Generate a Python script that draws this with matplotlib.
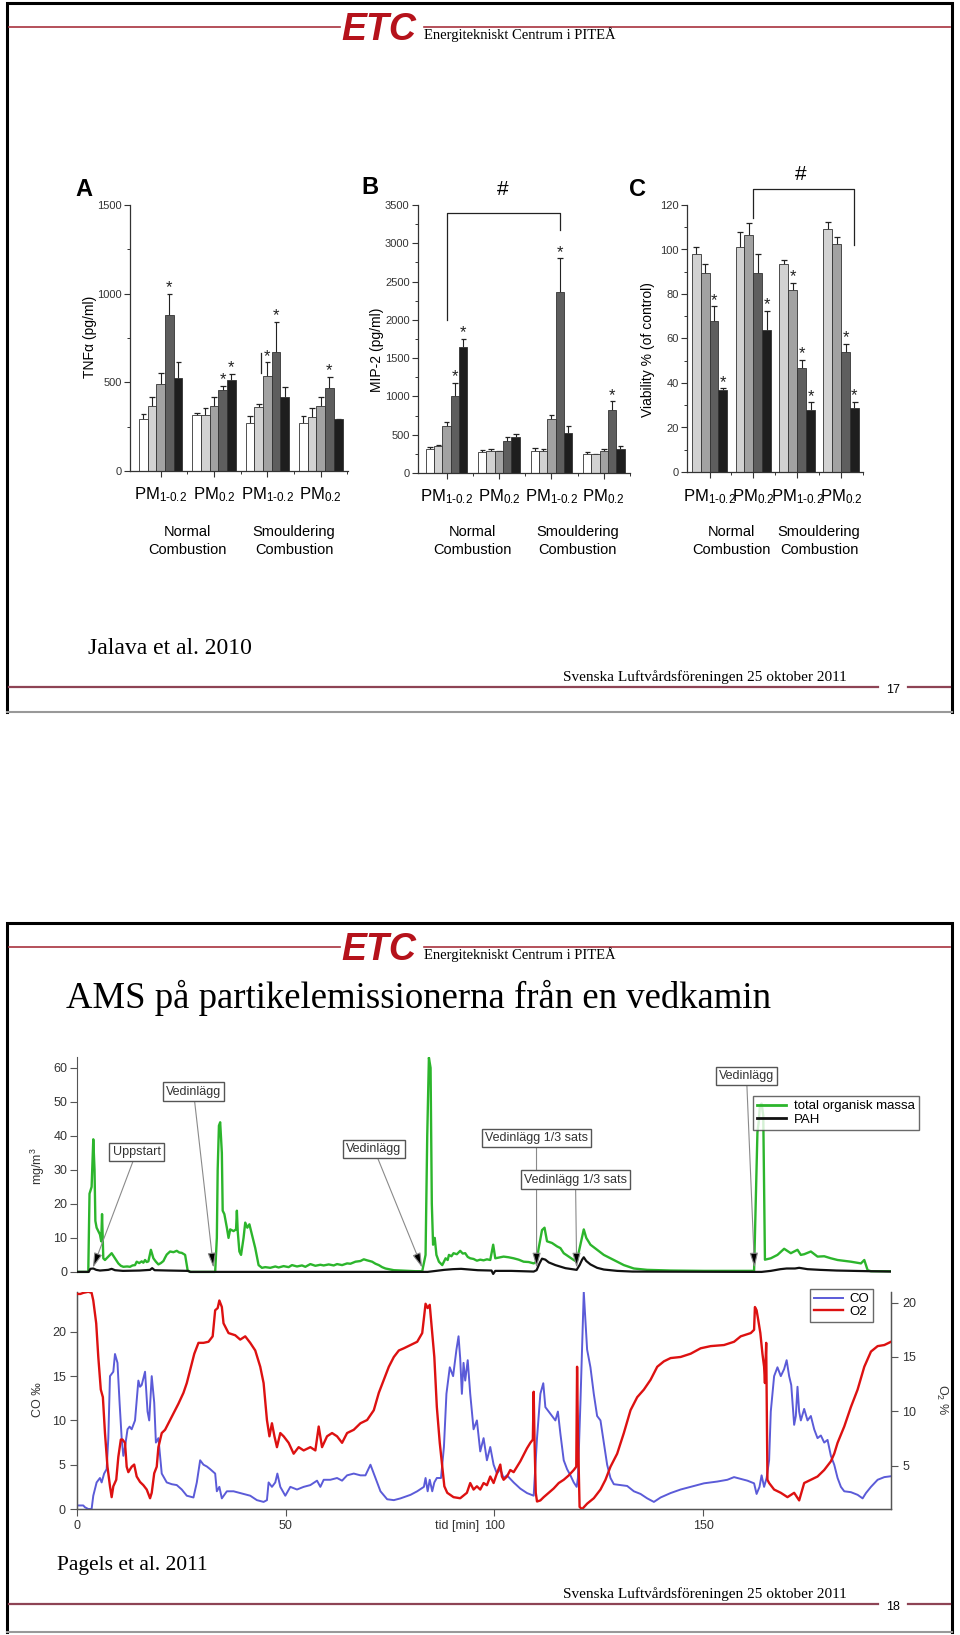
import numpy as np
import matplotlib
matplotlib.use('Agg')
import matplotlib.pyplot as plt
import matplotlib.transforms as mtrans

plt.rcParams['font.family'] = ['Liberation Sans', 'DejaVu Sans']
plt.rcParams['mathtext.fontset'] = 'custom'
plt.rcParams['mathtext.rm'] = 'Liberation Sans'
plt.rcParams['mathtext.it'] = 'Liberation Sans:italic'
plt.rcParams['mathtext.bf'] = 'Liberation Sans:bold'

# ---------------- data: slide 17 (Jalava et al. 2010) ----------------
pm_labels = [r'PM$_{1\text{-}0.2}$', r'PM$_{0.2}$', r'PM$_{1\text{-}0.2}$', r'PM$_{0.2}$']

tnf_vals = [[294, 366, 493, 881, 525], [313, 313, 369, 454, 514],
            [272, 360, 538, 669, 418], [272, 306, 369, 469, 291]]
tnf_tops = [[324, 418, 553, 999, 615], [328, 356, 418, 478, 548],
            [309, 375, 613, 842, 474], [309, 354, 418, 529, 291]]
tnf_stars = [(0, 3), (1, 3), (1, 4), (2, 2), (2, 3), (3, 3)]

mip_vals = [[313, 348, 609, 1000, 1643], [270, 283, 283, 413, 470],
            [291, 291, 700, 2361, 522], [252, 243, 291, 817, 313]]
mip_tops = [[339, 370, 670, 1174, 1748], [304, 313, 283, 465, 513],
            [326, 313, 761, 2804, 617], [278, 243, 313, 935, 348]]
mip_stars = [(0, 3), (0, 4), (2, 3), (3, 3)]

via_vals = [[97.9, 89.5, 67.8, 36.7], [100.9, 106.3, 89.5, 64.0],
            [93.4, 81.7, 46.6, 27.7], [109.2, 102.4, 54.0, 28.6]]
via_tops = [[101.2, 93.7, 74.5, 37.6], [107.8, 112.0, 98.2, 72.4],
            [95.2, 85.0, 50.5, 31.3], [112.3, 105.7, 57.7, 31.6]]
via_stars = [(0, 2), (0, 3), (1, 3), (2, 1), (2, 2), (2, 3), (3, 2), (3, 3)]

# ---------------- data: slide 18 (Pagels et al. 2011) ----------------
# (time [min], mg/m3)
tom = [(0, 0), (2.7, 0), (3.0, 23), (3.5, 25), (3.9, 39), (4.2, 30), (4.4, 15), (4.7, 13),
       (5.1, 12), (5.5, 11), (5.8, 9), (6.0, 17), (6.3, 4), (6.7, 3.5), (7.5, 4.5), (8.3, 5.5),
       (9.1, 4), (9.9, 2.5), (10.5, 1.8), (11.1, 1.5), (12.0, 1.6), (12.7, 1.5), (13.3, 1.9),
       (13.9, 2), (14.3, 3), (14.9, 2.6), (15.5, 3.1), (15.9, 2.7), (16.3, 3.5), (16.7, 2.9),
       (17.1, 3.1), (17.7, 6.5), (18.3, 4), (18.9, 3.0), (19.5, 2.2), (20.1, 2.6), (20.7, 3.2),
       (21.1, 4.2), (21.5, 5.1), (22.3, 6.0), (23.1, 5.8), (23.9, 6.2), (24.5, 5.7), (25.1, 5.6),
       (25.9, 5.0), (26.3, 2.0), (26.5, 0.5), (27.1, 0), (33.1, 0), (33.5, 10), (33.7, 30),
       (34.0, 43), (34.3, 44), (34.7, 35), (34.9, 18), (35.3, 17), (35.9, 13), (36.3, 10),
       (36.7, 12.5), (37.5, 12), (38.1, 12.5), (38.3, 18), (38.5, 12), (38.9, 6), (39.3, 5),
       (39.9, 10), (40.3, 14.5), (40.8, 13), (41.3, 14), (41.9, 11), (42.7, 7), (43.5, 2),
       (44.3, 1.2), (45.1, 1.4), (46.3, 1.2), (47.5, 1.6), (48.3, 1.3), (49.5, 1.7), (50.7, 1.4),
       (51.5, 2.0), (52.7, 1.6), (53.9, 1.9), (54.7, 1.5), (55.9, 2.3), (57.1, 1.8), (58.3, 2.1),
       (59.1, 1.9), (60.3, 2.2), (61.5, 1.9), (62.3, 2.3), (63.5, 2.0), (64.7, 2.5), (65.5, 2.4),
       (66.7, 3.0), (67.9, 3.2), (68.7, 3.7), (69.5, 3.4), (70.7, 3.0), (71.5, 2.4), (72.3, 2.0),
       (73.1, 1.4), (73.9, 1.0), (75.1, 0.7), (75.9, 0.5), (77.5, 0.4), (79.1, 0.3), (81.1, 0.2),
       (82.7, 0.2), (83.5, 5), (83.9, 40), (84.3, 63), (84.7, 60), (85.0, 20), (85.3, 8),
       (85.7, 10), (86.1, 5), (86.7, 3), (87.5, 2), (88.3, 4), (88.8, 3.5), (89.1, 5), (89.7, 4.6),
       (90.2, 5.5), (91.0, 5.2), (91.8, 6.2), (92.4, 5.4), (93.0, 5.5), (93.6, 4.4), (94.2, 4),
       (95.0, 3.8), (95.8, 3.3), (96.6, 3.6), (97.4, 3.4), (98.2, 3.7), (99.0, 3.5), (99.7, 8.0),
       (100.2, 4.0), (101.0, 4.2), (102.2, 4.5), (103.4, 4.3), (104.6, 4.0), (105.8, 3.6),
       (107.0, 3.0), (108.2, 2.9), (109.4, 2.5), (110.1, 3.0), (110.6, 7), (111.4, 12.3),
       (112.0, 13), (112.6, 9), (113.8, 8.5), (115.0, 7.5), (115.8, 7), (116.6, 5.5), (117.8, 4.5),
       (119.0, 3.5), (119.7, 3), (120.6, 8), (121.4, 12.5), (122.0, 10), (123.0, 8), (124.6, 6.5),
       (126.2, 5), (127.8, 4), (129.4, 3), (131.0, 2), (133.4, 1), (136.6, 0.6), (142.2, 0.4),
       (150.2, 0.3), (158.2, 0.3), (162.2, 0.3), (162.6, 20), (163.0, 41), (163.3, 44),
       (163.6, 49), (164.0, 49.5), (164.4, 46), (164.8, 3.6), (166.2, 4), (167.8, 5), (169.4, 6.8),
       (171.0, 5.5), (172.6, 6.5), (173.4, 5), (174.2, 5.2), (175.8, 6), (177.4, 4.5), (179.0, 4.6),
       (180.6, 4), (182.2, 3.5), (185.4, 3), (187.8, 2.5), (188.6, 3.5), (189.4, 0.5), (190.2, 0.2),
       (195.0, 0.2)]

pah = [(0, 0), (2.8, 0), (3.2, 0.9), (3.9, 1.0), (4.6, 0.6), (5.5, 0.4), (7.5, 0.6), (8.3, 0.9),
       (9.1, 0.5), (11.0, 0.3), (15.0, 0.4), (17.5, 0.6), (18.0, 1.1), (18.6, 0.5), (22.0, 0.4),
       (26.5, 0.3), (27.2, 0), (84.0, 0), (86.0, 0.3), (88.0, 0.6), (90.0, 0.8), (92.0, 0.9),
       (94.0, 0.7), (96.0, 0.5), (99.3, 0.4), (99.7, -0.6), (100.2, 0.3), (104.0, 0.3),
       (109.4, 0.1), (110.1, 0.5), (110.8, 2.5), (111.4, 3.9), (112.2, 3.6), (113.0, 2.8),
       (114.6, 2.0), (117.0, 1.1), (119.7, 0.6), (120.4, 2.0), (121.0, 3.6), (121.4, 4.3),
       (122.0, 3.2), (123.0, 2.2), (124.6, 1.2), (126.2, 0.7), (129.4, 0.3), (133.0, 0.1),
       (162.5, 0), (164.0, 0), (166.2, 0.3), (168.5, 0.8), (170.0, 1.0), (172.0, 1.0),
       (173.0, 1.2), (175.0, 0.8), (178.0, 0.6), (182.0, 0.4), (190.0, 0.2), (195.0, 0.1)]

# (time [min], CO permille)
co = [(0, 0.4), (1.5, 0.4), (1.9, 0.2), (2.7, 0), (3.5, 0), (3.9, 1.5), (4.7, 3), (5.5, 3.5),
      (5.9, 3), (6.5, 4), (7.1, 4.5), (7.5, 8), (7.9, 15), (8.7, 15.5), (9.1, 17.5), (9.7, 16.5),
      (10.2, 12), (10.7, 8), (11.1, 6), (11.5, 7), (12.1, 9), (12.6, 9.3), (13.1, 9), (13.9, 10),
      (14.7, 14.5), (15.1, 13.8), (15.5, 14), (16.3, 15.5), (16.9, 11), (17.3, 10), (17.9, 15),
      (18.5, 12), (18.9, 7.5), (19.5, 8), (20.3, 4), (21.5, 3), (22.7, 2.8), (23.9, 2.7),
      (25.1, 2.2), (26.3, 1.5), (27.9, 1.3), (28.7, 3), (29.5, 5.5), (30.3, 5), (31.1, 4.8),
      (31.9, 4.5), (33.1, 4), (33.5, 2), (34.1, 2.5), (34.7, 1.2), (35.9, 2), (37.5, 2),
      (39.1, 1.8), (41.5, 1.5), (43.1, 1), (44.7, 0.8), (45.5, 1), (45.9, 3), (46.7, 2.5),
      (47.5, 3), (48.0, 4), (48.7, 2.5), (49.9, 1.5), (51.1, 2.5), (52.7, 2.2), (54.3, 2.5),
      (55.9, 2.7), (57.5, 3.2), (58.3, 2.5), (59.1, 3.3), (60.7, 3.3), (62.3, 3.5), (63.5, 3.2),
      (64.7, 3.8), (66.3, 4), (67.9, 3.8), (69.1, 3.8), (70.3, 5), (71.1, 4), (72.7, 2),
      (74.3, 1.1), (75.9, 1), (77.5, 1.2), (79.9, 1.6), (81.5, 2), (83.1, 2.5), (83.5, 3.5),
      (84.0, 2), (84.5, 3.3), (85.1, 2), (85.6, 3), (86.2, 3.5), (87.2, 3.5), (87.9, 7),
      (88.5, 13), (89.3, 16), (90.1, 15), (90.9, 18), (91.4, 19.5), (91.8, 17), (92.2, 13),
      (92.6, 16.5), (93.0, 14.5), (93.6, 16.8), (94.2, 13), (95.0, 9), (95.8, 10), (96.6, 6.5),
      (97.4, 8), (98.2, 5.5), (99.0, 7), (99.8, 5), (100.6, 4), (101.4, 4.5), (102.2, 3.5),
      (103.0, 3.8), (104.6, 3), (106.2, 2.3), (107.8, 1.8), (109.4, 1.5), (110.2, 8), (111.0, 13),
      (111.7, 14.2), (112.2, 11.5), (113.0, 11), (113.8, 10.5), (114.6, 10), (115.2, 11),
      (115.8, 8.5), (116.6, 5.5), (117.4, 4.5), (118.2, 3.8), (119.0, 3), (119.7, 2.5),
      (120.0, 3.5), (120.6, 12), (121.4, 24.5), (122.2, 18), (123.0, 16), (123.8, 13),
      (124.6, 10.5), (125.4, 10), (126.2, 7.5), (127.0, 5), (127.8, 3.5), (128.6, 2.8),
      (130.2, 2.7), (131.8, 2.6), (133.4, 2), (135.0, 1.7), (136.6, 1.2), (138.2, 0.8),
      (139.8, 1.3), (142.2, 1.8), (144.6, 2.2), (147.0, 2.5), (150.2, 2.9), (153.4, 3.1),
      (155.8, 3.3), (157.4, 3.6), (159.0, 3.4), (160.6, 3.2), (162.2, 2.9), (162.8, 1.7),
      (163.5, 2.5), (164.0, 3.8), (164.6, 2.5), (165.2, 3.5), (165.8, 5.5), (166.2, 11),
      (167.0, 15), (167.8, 16), (168.6, 15), (169.4, 15.8), (170.0, 16.8), (170.6, 15),
      (171.1, 14), (171.8, 9.5), (172.2, 10.5), (172.6, 13.8), (173.0, 11), (173.4, 10),
      (174.2, 11.3), (175.0, 10), (175.8, 10.5), (176.6, 9), (177.4, 8), (178.2, 8.3), (179.0, 7.5),
      (179.8, 7.8), (180.6, 6), (181.4, 5), (182.2, 3.5), (183.0, 2.5), (183.8, 2), (185.4, 1.9),
      (187.0, 1.6), (188.2, 1.2), (189.0, 1.8), (190.2, 2.5), (191.8, 3.3), (193.4, 3.6),
      (195.0, 3.7)]

# (time [min], O2 %)
o2 = [(0, 20.8), (0.8, 20.8), (1.5, 20.9), (2.7, 21.0), (3.5, 20.9), (3.9, 20.2), (4.6, 18.1),
      (5.1, 15.0), (5.7, 12.0), (6.2, 11.3), (6.7, 8.0), (7.3, 4.9), (7.9, 3.1), (8.3, 2.1),
      (8.7, 3.1), (9.4, 3.7), (9.9, 5.8), (10.5, 7.4), (10.9, 7.4), (11.5, 7.1), (11.9, 4.9),
      (12.3, 4.4), (13.1, 4.9), (13.7, 5.1), (14.3, 4.0), (15.1, 3.5), (15.9, 3.2), (16.7, 2.8),
      (17.5, 2.0), (17.9, 2.5), (18.5, 4.3), (19.1, 4.9), (19.5, 6.7), (20.3, 8.0), (21.1, 8.3),
      (21.9, 8.9), (23.1, 9.8), (24.3, 10.7), (25.5, 11.7), (26.3, 12.6), (27.1, 13.8),
      (28.1, 15.3), (29.1, 16.3), (30.3, 16.3), (31.5, 16.4), (32.5, 16.9), (33.1, 19.3),
      (33.7, 19.5), (34.1, 20.2), (34.7, 19.6), (35.1, 18.1), (36.3, 17.2), (37.9, 17.0),
      (39.1, 16.6), (40.3, 16.9), (41.5, 16.3), (42.7, 15.6), (43.9, 14.1), (44.7, 12.6),
      (45.5, 9.2), (46.1, 7.7), (46.7, 8.9), (47.3, 7.7), (47.9, 6.7), (48.7, 8.0), (49.5, 7.7),
      (50.7, 7.1), (51.9, 6.1), (53.1, 6.7), (54.3, 6.4), (55.9, 6.7), (57.1, 6.4), (57.9, 8.6),
      (58.7, 6.7), (59.9, 7.7), (61.1, 8.0), (62.3, 7.7), (63.5, 7.1), (64.7, 8.0), (66.3, 8.3),
      (67.9, 8.9), (69.5, 9.2), (71.1, 10.1), (72.3, 11.7), (73.5, 12.9), (74.7, 14.1),
      (75.9, 15.0), (77.1, 15.6), (78.3, 15.8), (79.9, 16.1), (81.5, 16.4), (82.7, 17.2),
      (83.5, 19.9), (84.0, 19.5), (84.5, 19.8), (85.1, 17.2), (85.6, 15.0), (86.2, 10.4),
      (86.9, 7.1), (87.5, 4.9), (88.0, 3.1), (88.7, 2.5), (90.2, 2.1), (91.8, 2.0), (93.4, 2.5),
      (94.2, 3.4), (95.0, 2.8), (95.8, 3.1), (96.6, 2.8), (97.4, 3.4), (98.2, 3.2), (99.0, 4.0),
      (99.8, 3.4), (100.6, 4.3), (101.4, 5.1), (101.8, 4.0), (102.2, 3.7), (103.0, 4.0),
      (103.8, 4.6), (104.6, 4.4), (105.4, 4.9), (106.2, 5.4), (107.0, 6.0), (107.8, 6.6),
      (108.6, 7.1), (109.2, 7.4), (109.4, 11.8), (109.6, 7.4), (109.9, 2.5), (110.2, 1.7),
      (111.0, 1.8), (111.8, 2.1), (113.0, 2.5), (114.2, 2.9), (115.4, 3.4), (116.6, 3.7),
      (117.8, 4.1), (119.0, 4.6), (119.6, 4.9), (119.8, 14.1), (120.0, 8.0), (120.4, 1.2),
      (121.0, 1.0), (122.2, 1.5), (123.8, 2.0), (125.4, 2.8), (126.6, 3.7), (127.8, 4.9),
      (129.4, 6.1), (131.0, 8.0), (132.6, 10.1), (134.2, 11.3), (135.8, 12.0), (137.4, 12.9),
      (139.0, 14.1), (140.6, 14.6), (142.2, 14.9), (144.6, 15.0), (147.0, 15.3), (149.4, 15.8),
      (151.8, 16.0), (155.0, 16.1), (157.4, 16.4), (159.0, 16.9), (161.4, 17.2), (162.2, 17.5),
      (162.4, 19.6), (162.8, 19.3), (163.2, 18.4), (163.7, 17.2), (164.2, 15.3), (164.6, 14.1),
      (164.8, 12.6), (165.1, 16.3), (165.4, 3.7), (165.8, 3.4), (167.0, 2.8), (168.6, 2.5),
      (170.2, 2.1), (171.8, 2.5), (173.0, 1.8), (174.2, 3.4), (175.8, 3.7), (177.4, 4.0),
      (179.0, 4.6), (180.6, 5.4), (181.4, 6.1), (182.2, 7.1), (183.8, 8.6), (185.4, 10.4),
      (187.0, 12.0), (188.6, 14.1), (190.2, 15.5), (191.8, 16.0), (193.4, 16.1), (195.0, 16.4)]

events = [('Uppstart', 3.8), ('Vedinlägg', 32.7), ('Vedinlägg', 82.7),
          ('Vedinlägg 1/3 sats', 110.1), ('Vedinlägg 1/3 sats', 119.7), ('Vedinlägg', 162.3)]

# ---------------- layout helpers (pixel based) ----------------
W, H = 960, 1635
fig = plt.figure(figsize=(W / 100, H / 100), dpi=100)


def rect(x0, y0, x1, y1):
    return [x0 / W, 1 - y1 / H, (x1 - x0) / W, (y1 - y0) / H]


bg = fig.add_axes([0, 0, 1, 1])
bg.set_xlim(0, W)
bg.set_ylim(H, 0)
bg.axis('off')

serif = ['Liberation Serif', 'DejaVu Serif']
maroon = '#8e4455'


def slide_frame(top, bottom, page, ref, ref_x, ref_y, ref_size, foot_y):
    bg.plot([7, 7, 952, 952], [bottom, top, top, bottom], color='black', lw=2.2,
            solid_joinstyle='miter')
    bg.plot([7, 952], [bottom, bottom], color='#999999', lw=1.5)
    ly = top + 24
    bg.plot([9, 340], [ly, ly], color='#a8323e', lw=1.2)
    bg.plot([424, 950], [ly, ly], color='#a8323e', lw=1.2)
    bg.text(341, top + 37, 'ETC', color='#b5121b', fontsize=27, fontweight='bold',
            fontstyle='italic', ha='left', va='baseline')
    bg.text(424, top + 36, 'Energitekniskt Centrum i PITEÅ', family=serif, fontsize=10.5,
            ha='left', va='baseline')
    bg.text(ref_x, ref_y, ref, family=serif, fontsize=ref_size, ha='left', va='baseline')
    bg.text(563, foot_y - 6, 'Svenska Luftvårdsföreningen 25 oktober 2011', family=serif,
            fontsize=11, ha='left', va='baseline')
    bg.plot([9, 878], [foot_y, foot_y], color=maroon, lw=1.6)
    bg.plot([908, 950], [foot_y, foot_y], color=maroon, lw=1.6)
    bg.text(893, foot_y + 3, page, fontsize=9, ha='center', va='center')


slide_frame(3, 712, '17', 'Jalava et al. 2010', 88, 654, 17, 687)
slide_frame(923, 1632, '18', 'Pagels et al. 2011', 57, 1570, 15.5, 1604)

bg.text(66, 1008, 'AMS på partikelemissionerna från en vedkamin', family=serif,
        fontsize=26.5, ha='left', va='baseline')

# ---------------- slide 17 bar panels ----------------
grey5 = ['#ffffff', '#d2d2d2', '#a2a2a2', '#5e5e5e', '#1e1e1e']
grey4 = ['#d2d2d2', '#a2a2a2', '#5e5e5e', '#1e1e1e']


def bar_panel(box, vals, tops, colors, pitch, xlim, stars, ymax, major, minor, ylabel,
              lab_xy, letter, letter_xy, pm_pad):
    ax = fig.add_axes(rect(*box))
    nb = len(colors)
    for g, (gv, gt) in enumerate(zip(vals, tops)):
        xs = g * pitch + np.arange(nb) + 0.5
        ax.vlines(xs, gv, gt, color='#222222', lw=0.8, zorder=1)
        ax.hlines(gt, xs - 0.3, xs + 0.35, color='#222222', lw=0.9, zorder=1)
        ax.bar(xs, gv, width=1.0, color=colors, edgecolor='#333333', linewidth=0.6, zorder=2)
    for g, b in stars:
        ax.annotate('*', (g * pitch + b + 0.5, tops[g][b]), xytext=(0, -1),
                    textcoords='offset points', ha='center', va='bottom', fontsize=12,
                    color='#222222')
    ax.set_xlim(*xlim)
    ax.set_ylim(0, ymax)
    for s in ('top', 'right'):
        ax.spines[s].set_visible(False)
    for s in ('left', 'bottom'):
        ax.spines[s].set_color('#333333')
        ax.spines[s].set_linewidth(0.9)
    ax.set_yticks(np.arange(0, ymax + 1e-9, major))
    ax.set_yticks(np.arange(0, ymax + 1e-9, minor), minor=True)
    centers = [g * pitch + nb / 2 for g in range(len(vals))]
    bounds = [g * pitch + nb + (pitch - nb) / 2 for g in range(len(vals))]
    ax.set_xticks(centers, pm_labels)
    ax.set_xticks(bounds, minor=True)
    ax.tick_params(axis='y', which='major', length=4, width=0.8, labelsize=8, pad=2,
                   colors='#333333')
    ax.tick_params(axis='y', which='minor', length=2.5, width=0.7, colors='#333333')
    ax.tick_params(axis='x', which='major', length=4, width=0.8, labelsize=12, pad=pm_pad,
                   colors='#333333', labelcolor='black')
    ax.tick_params(axis='x', which='minor', length=2.5, width=0.7, colors='#333333')
    tr = mtrans.blended_transform_factory(ax.transData, ax.transAxes)
    yb = -(541 - box[3]) / (box[3] - box[1])
    ax.text((centers[0] + centers[1]) / 2, yb, 'Normal\nCombustion', transform=tr,
            ha='center', va='center', fontsize=10.5, linespacing=1.3)
    ax.text((centers[2] + centers[3]) / 2, yb, 'Smouldering\nCombustion', transform=tr,
            ha='center', va='center', fontsize=10.5, linespacing=1.3)
    fig.text(lab_xy[0] / W, 1 - lab_xy[1] / H, ylabel, rotation=90, ha='center',
             va='center', fontsize=10)
    fig.text(letter_xy[0] / W, 1 - letter_xy[1] / H, letter, ha='center', va='center',
             fontsize=17, fontweight='bold')
    return ax


axA = bar_panel((130, 205, 348, 471), tnf_vals, tnf_tops, grey5, 6.13, (-1.03, 24.02),
                tnf_stars, 1500, 500, 250, 'TNFα (pg/ml)', (90, 337), 'A', (84, 190), 6)
axA.plot([2 * 6.13 + 1.75] * 2, [553, 665], color='#222222', lw=0.9)

axB = bar_panel((418, 205, 630, 473), mip_vals, mip_tops, grey5, 6.29, (-0.92, 24.32),
                mip_stars, 3500, 500, 250, 'MIP-2 (pg/ml)', (377, 350), 'B', (370, 188), 6)
bx0, bx1 = 2.5, 2 * 6.29 + 3.5
axB.plot([bx0, bx0, bx1, bx1], [2000, 3400, 3400, 3180], color='#222222', lw=0.9,
         clip_on=False)
axB.text((bx0 + bx1) / 2, 3700, '#', ha='center', va='center', fontsize=15, clip_on=False)

axC = bar_panel((687, 205, 863, 472), via_vals, via_tops, grey4, 4.93, (-0.53, 19.25),
                via_stars, 120, 20, 10, 'Viability % (of control)', (648, 350), 'C',
                (638, 190), 7)
cx0, cx1 = 4.93 + 2, 3 * 4.93 + 3.5
axC.plot([cx0, cx0, cx1, cx1], [114.2, 127.2, 127.2, 102], color='#222222', lw=0.9,
         clip_on=False)
axC.text(12.2, 133.5, '#', ha='center', va='center', fontsize=15, clip_on=False)

# ---------------- slide 18 time series ----------------
green = '#2cb52c'
tom_t, tom_v = np.array(tom).T
pah_t, pah_v = np.array(pah).T
co_t, co_v = np.array(co).T
o2_t, o2_v = np.array(o2).T

ax1 = fig.add_axes(rect(77, 1057, 891, 1277))
ax1.plot(tom_t, tom_v, color=green, lw=1.7, label='total organisk massa', zorder=3)
ax1.plot(pah_t, pah_v, color='#111111', lw=1.6, label='PAH', zorder=4)
ax1.set_xlim(0, 195)
ax1.set_ylim(-1.5, 63.2)
for s in ('top', 'right', 'bottom'):
    ax1.spines[s].set_visible(False)
ax1.spines['left'].set_bounds(0, 63.2)
ax1.spines['left'].set_color('#555555')
ax1.set_xticks([])
ax1.set_yticks(range(0, 61, 10))
ax1.tick_params(axis='y', length=5, width=0.8, labelsize=9, colors='#555555',
                labelcolor='#333333', pad=2)

box_centres = [(136.5, 1152), (193.5, 1091.5), (374, 1149), (536.5, 1138), (575.5, 1179.5),
               (746.5, 1076)]
for (txt, t), (px, py) in zip(events, box_centres):
    ax1.annotate(txt, xy=(t, 1.2), xycoords='data', xytext=(px, H - py),
                 textcoords='figure pixels', ha='center', va='center', fontsize=9,
                 color='#333333',
                 bbox=dict(boxstyle='square,pad=0.25', fc='white', ec='#555555', lw=1.0),
                 arrowprops=dict(arrowstyle='-|>,head_length=0.9,head_width=0.25',
                                 fc='black', ec='#8a8a8a', lw=0.8, shrinkA=0, shrinkB=0,
                                 mutation_scale=10))

leg1 = ax1.legend(loc='upper right', bbox_to_anchor=(919 / W, 1 - 1096 / H),
                  bbox_transform=fig.transFigure, frameon=True, fancybox=False,
                  fontsize=9.5, handlelength=2.2, borderpad=0.3, labelspacing=0.1,
                  handletextpad=0.6, borderaxespad=0)
leg1.get_frame().set_edgecolor('#444444')
leg1.get_frame().set_linewidth(1.0)
for ln in leg1.get_lines():
    ln.set_linewidth(2.0)

ax2 = fig.add_axes(rect(77, 1292, 891, 1509))
l_co, = ax2.plot(co_t, co_v, color='#5b5bd8', lw=1.4, label='CO', zorder=2)
ax2.set_xlim(0, 195)
ax2.set_ylim(0, 24.5)
ax3 = ax2.twinx()
l_o2, = ax3.plot(o2_t, o2_v, color='#dd1111', lw=1.7, label='O2', zorder=3)
ax3.set_ylim(1.01, 20.98)
for a in (ax2, ax3):
    a.spines['top'].set_visible(False)
    for s in ('left', 'right', 'bottom'):
        a.spines[s].set_color('#555555')
        a.spines[s].set_linewidth(0.9)
ax2.set_yticks(range(0, 21, 5))
ax3.set_yticks(range(5, 21, 5))
ax2.set_xticks(range(0, 151, 50))
ax2.tick_params(axis='both', length=5, width=0.8, labelsize=9, colors='#555555',
                labelcolor='#333333', pad=3)
ax3.tick_params(axis='y', length=5, width=0.8, labelsize=9, colors='#555555',
                labelcolor='#333333', pad=3)
ax2.annotate('tid [min]', xy=(100, 0), xycoords=('data', 'axes fraction'),
             xytext=(-11, -8), textcoords='offset points', ha='right', va='top',
             fontsize=9, color='#333333')
leg2 = ax3.legend([l_co, l_o2], ['CO', 'O2'], loc='upper right',
                  bbox_to_anchor=(873 / W, 1 - 1289 / H), bbox_transform=fig.transFigure,
                  frameon=True, fancybox=False, fontsize=9.5, handlelength=2.2,
                  borderpad=0.3, labelspacing=0.05, handletextpad=0.5, borderaxespad=0)
leg2.get_frame().set_edgecolor('#444444')
leg2.get_frame().set_linewidth(1.0)

fig.text(38 / W, 1 - 1166 / H, 'mg/m$^3$', rotation=90, ha='center', va='center',
         fontsize=9, color='#333333')
fig.text(38 / W, 1 - 1400 / H, 'CO ‰', rotation=90, ha='center', va='center',
         fontsize=9, color='#333333')
fig.text(942 / W, 1 - 1400 / H, 'O$_2$ %', rotation=270, ha='center', va='center',
         fontsize=9, color='#333333')

fig.savefig('out.png', dpi=100)
